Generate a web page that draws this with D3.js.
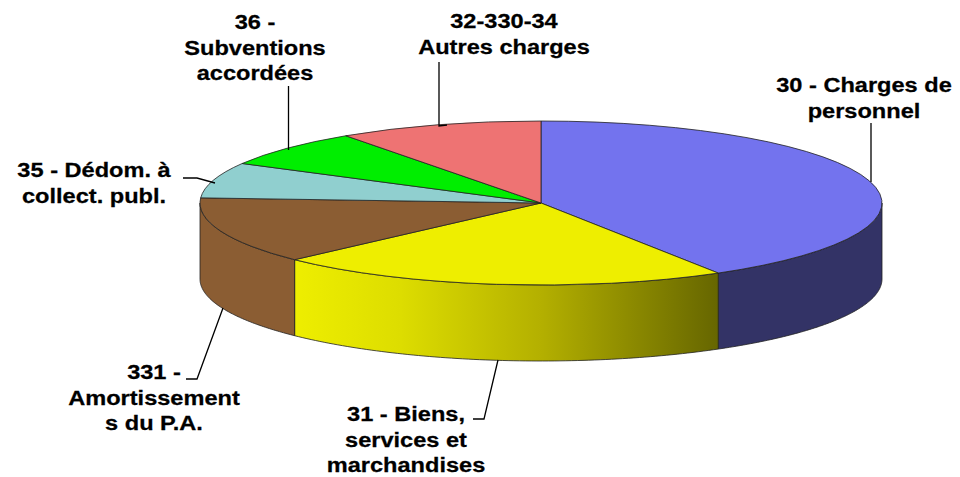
<!DOCTYPE html>
<html>
<head>
<meta charset="utf-8">
<script src="https://cdn.jsdelivr.net/npm/d3@7"></script>
<style>
    html, body { margin: 0; padding: 0; background: #fff; overflow: hidden; }
    text { font-family: "Liberation Sans", Arial, sans-serif; font-weight: bold; font-size: 19.5px; fill: #000; stroke: #000; stroke-width: 0.25px; }
</style>
</head>
<body>
<div id="chart"></div>
<script>
// Slice data, clockwise from the top of the pie
const categories = ['30', '31', '331', '35', '36', '32-330-34'];
const shares = [41.3, 21.55, 13.15, 7.0, 7.3, 9.7];
const topColors = ['#7373ee', '#eeee00', '#8b5d33', '#90cfcf', '#00ee00', '#ee7373'];
const wallColors = ['#333366', 'url(#yellowWall)', '#8b5d33', '#90cfcf', '#00ee00', '#ee7373'];

// Label lines with their position (x = middle, y = first baseline)
const labels = [
    { lines: ['30 - Charges de', 'personnel'], x: 864, y: 92 },
    { lines: ['31 - Biens,', 'services et', 'marchandises'], x: 406, y: 421 },
    { lines: ['331 -', 'Amortissement', 's du P.A.'], x: 154, y: 379 },
    { lines: ['35 - Dédom. à', 'collect. publ.'], x: 94, y: 177 },
    { lines: ['36 -', 'Subventions', 'accordées'], x: 255, y: 29 },
    { lines: ['32-330-34', 'Autres charges'], x: 504, y: 28 }
];

// Leader lines
const leaders = [
    [[871, 123], [871, 182]],
    [[473, 419], [484, 419], [498, 360]],
    [[186, 379], [197, 379], [223, 308]],
    [[183, 178], [197, 178], [215, 183]],
    [[288.5, 86], [288.5, 150]],
    [[439, 62], [439, 126], [447, 125]]
];

// Shading of the yellow wall, left to right
const wallStops = [
    ['0%', '#eeee00'],
    ['25%', '#dddd00'],
    ['58%', '#b4b000'],
    ['100%', '#666600']
];

const width = 960, height = 477;
const cx = 541, cy = 203, rx = 341, ry = 82, depth = 76;
const lineHeight = 25.7, stretch = 1.21;

const svg = d3.select('#chart').append('svg')
    .attr('width', width)
    .attr('height', height)
    .style('display', 'block');

svg.append('defs').append('linearGradient').attr('id', 'yellowWall')
    .selectAll('stop')
    .data(wallStops)
    .join('stop')
    .attr('offset', d => d[0])
    .attr('stop-color', d => d[1]);

const slices = d3.pie().sort(null).value(d => d)(shares);

// Point on the rim for a pie angle (0 = top, clockwise)
const rimX = a => cx + rx * Math.sin(a);
const rimY = a => cy - ry * Math.cos(a);

// Side walls, only the part that faces the viewer
const wallArea = d3.area()
    .x(a => rimX(a))
    .y0(a => rimY(a))
    .y1(a => rimY(a) + depth);

svg.append('g').selectAll('path')
    .data(slices.filter(d => d.endAngle > Math.PI / 2 && d.startAngle < Math.PI * 1.5))
    .join('path')
    .attr('d', d => {
        const a0 = Math.max(d.startAngle, Math.PI / 2);
        const a1 = Math.min(d.endAngle, Math.PI * 1.5);
        return wallArea(d3.range(0, 81).map(i => a0 + (a1 - a0) * i / 80));
    })
    .attr('fill', d => wallColors[d.index])
    .attr('stroke', '#222')
    .attr('stroke-width', 0.8);

// Top face: a normal arc squashed vertically
const arc = d3.arc().innerRadius(0).outerRadius(rx);

svg.append('g')
    .attr('transform', `translate(${cx},${cy}) scale(1,${ry / rx})`)
    .selectAll('path')
    .data(slices)
    .join('path')
    .attr('d', arc)
    .attr('fill', d => topColors[d.index])
    .attr('stroke', '#222')
    .attr('stroke-width', 0.8)
    .attr('vector-effect', 'non-scaling-stroke');

// Leader lines
const leaderLine = d3.line();
svg.append('g').selectAll('path')
    .data(leaders)
    .join('path')
    .attr('d', leaderLine)
    .attr('fill', 'none')
    .attr('stroke', '#000')
    .attr('stroke-width', 1.3);

// Labels
const labelGroups = svg.append('g').selectAll('g')
    .data(labels)
    .join('g')
    .attr('transform', d => `translate(${d.x},${d.y}) scale(${stretch},1)`);

labelGroups.selectAll('text')
    .data(d => d.lines)
    .join('text')
    .attr('text-anchor', 'middle')
    .attr('y', (d, i) => i * lineHeight)
    .text(d => d);
</script>
</body>
</html>
